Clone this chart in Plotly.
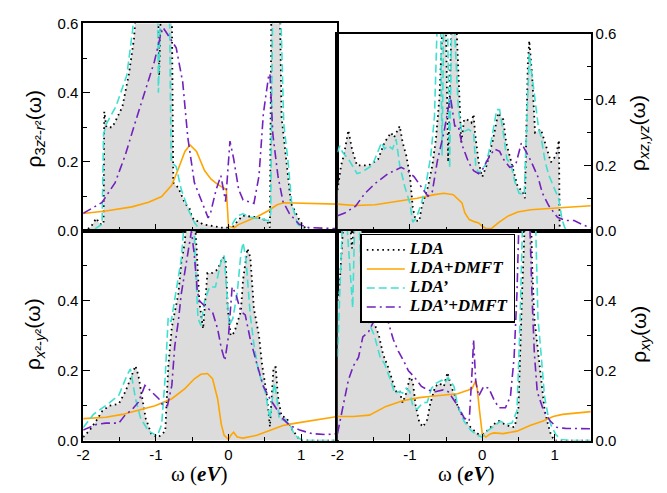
import plotly.graph_objects as go

# ---------------- data ----------------
x_tick_vals = [-2, -1, 0, 1]
x_tick_text = ["-2", "-1", "0", "1"]
x_minor_vals = [-1.5, -0.5, 0.5, 1.5]
y_tick_vals_top = [0.0, 0.2, 0.4, 0.6]
y_tick_text_top = ["0.0", "0.2", "0.4", "0.6"]
y_tick_vals_bot = [0.0, 0.2, 0.4]
y_tick_text_bot = ["0.0", "0.2", "0.4"]
y_minor_vals = [0.1, 0.3, 0.5]

series_names = ["LDA", "LDA+DMFT", "LDA’", "LDA’+DMFT"]

# --- top-left: 3z^2-r^2 ---
tl_lda_x = [-2.0, -1.9, -1.82, -1.77, -1.72, -1.71, -1.68, -1.6, -1.55, -1.46, -1.37, -1.30, -1.27, -1.2, -1.1, -1.0,
            -0.97, -0.955, -0.94, -0.9, -0.82, -0.78, -0.76, -0.69, -0.6, -0.535, -0.51, -0.47, -0.4, -0.36, -0.1,
            -0.02, 0.0, 0.05, 0.13, 0.2, 0.3, 0.4, 0.53, 0.57, 0.59, 0.62, 0.66, 0.70, 0.73, 0.8, 0.86, 0.98, 1.07,
            1.2, 1.5]
tl_lda_y = [0.0, 0.01, 0.037, 0.02, 0.02, 0.345, 0.30, 0.30, 0.32, 0.36, 0.455, 0.557, 0.65, 0.8, 0.9, 0.85,
            0.7, 0.45, 0.7, 0.9, 0.8, 0.65, 0.14, 0.125, 0.08, 0.065, 0.045, 0.03, 0.028, 0.02, 0.01,
            0.01, 0.0, 0.01, 0.03, 0.045, 0.042, 0.04, 0.03, 0.01, 0.65, 0.75, 0.7, 0.75, 0.33, 0.2, 0.08, 0.03, 0.005,
            0.0, 0.0]
tl_dmft_x = [-2.0, -1.69, -1.33, -1.1, -0.92, -0.78, -0.69, -0.60, -0.53, -0.44, -0.33, -0.24, -0.15, -0.06, -0.03,
             0.0, 0.08, 0.13, 0.27, 0.40, 0.54, 0.67, 0.76, 0.9, 1.5]
tl_dmft_y = [0.051, 0.058, 0.07, 0.083, 0.10, 0.133, 0.18, 0.23, 0.249, 0.23, 0.175, 0.15, 0.135, 0.125, 0.12,
             0.014, 0.009, 0.018, 0.03, 0.042, 0.058, 0.076, 0.082, 0.081, 0.078]
tl_ldap_x = [-2.0, -1.85, -1.74, -1.72, -1.68, -1.55, -1.40, -1.32, -1.28, -1.15, -1.0, -0.975, -0.965, -0.95, -0.9,
             -0.83, -0.81, -0.79, -0.72, -0.65, -0.55, -0.47, -0.4, -0.1, 0.0, 0.08, 0.13, 0.2, 0.3, 0.45, 0.55,
             0.58, 0.61, 0.66, 0.70, 0.73, 0.76, 0.82, 0.87, 0.95, 1.05, 1.2, 1.5]
tl_ldap_y = [0.0, 0.005, 0.02, 0.28, 0.31, 0.36, 0.45, 0.58, 0.7, 0.9, 0.85, 0.7, 0.40, 0.7, 0.95,
             0.8, 0.6, 0.2, 0.186, 0.12, 0.06, 0.025, 0.005, 0.003, 0.0, 0.03, 0.045, 0.05, 0.04, 0.035, 0.03,
             0.05, 0.7, 0.8, 0.75, 0.55, 0.31, 0.2, 0.08, 0.02, 0.003, 0.0, 0.0]
tl_ldapd_x = [-2.0, -1.74, -1.56, -1.42, -1.29, -1.15, -1.02, -0.93, -0.9, -0.80, -0.72, -0.63, -0.56, -0.47, -0.36,
              -0.28, -0.25, -0.17, -0.105, -0.04, 0.02, 0.07, 0.14, 0.2, 0.35, 0.42, 0.48, 0.55, 0.57, 0.61, 0.68,
              0.75, 0.84, 0.97, 1.1, 1.5]
tl_ldapd_y = [0.051, 0.083, 0.14, 0.22, 0.31, 0.40, 0.49, 0.57, 0.588, 0.556, 0.53, 0.43, 0.27, 0.14, 0.08,
              0.038, 0.05, 0.12, 0.16, 0.085, 0.26, 0.21, 0.12, 0.09, 0.08, 0.16, 0.34, 0.445, 0.455, 0.28, 0.16,
              0.085, 0.05, 0.02, 0.01, 0.007]

# --- top-right: xz,yz ---
tr_lda_x = [-2.0, -1.95, -1.91, -1.85, -1.80, -1.73, -1.57, -1.44, -1.35, -1.26, -1.22, -1.14, -1.10, -1.05, -1.0,
            -0.96, -0.92, -0.87, -0.84, -0.75, -0.69, -0.64, -0.59, -0.56, -0.53, -0.50, -0.47, -0.44, -0.41, -0.37,
            -0.33, -0.29, -0.25, -0.21, -0.15, -0.12, -0.10, -0.05, 0.0, 0.06, 0.15, 0.22, 0.29, 0.33, 0.42, 0.49,
            0.56, 0.59, 0.63, 0.65, 0.69, 0.73, 0.81, 0.87, 0.95, 1.02, 1.06, 1.07, 1.5]
tr_lda_y = [0.125, 0.2, 0.233, 0.307, 0.25, 0.2, 0.2, 0.218, 0.27, 0.30, 0.285, 0.32, 0.27, 0.23, 0.17,
            0.072, 0.032, 0.03, 0.07, 0.135, 0.20, 0.28, 0.41, 0.65, 0.75, 0.6, 0.21, 0.5, 0.75, 0.7,
            0.5, 0.27, 0.34, 0.34, 0.33, 0.356, 0.30, 0.21, 0.165, 0.20, 0.28, 0.36, 0.34, 0.27, 0.194, 0.135,
            0.12, 0.10, 0.51, 0.58, 0.47, 0.30, 0.31, 0.27, 0.21, 0.23, 0.277, 0.0, 0.0]
tr_dmft_x = [-2.0, -1.75, -1.48, -1.12, -0.9, -0.66, -0.53, -0.40, -0.33, -0.28, -0.24, -0.18, -0.1, -0.05, 0.0,
             0.05, 0.13, 0.22, 0.36, 0.49, 0.67, 0.85, 1.08, 1.5]
tr_dmft_y = [0.082, 0.078, 0.08, 0.091, 0.10, 0.111, 0.115, 0.111, 0.098, 0.086, 0.055, 0.035, 0.028, 0.025, 0.015,
             0.008, 0.008, 0.025, 0.046, 0.058, 0.065, 0.067, 0.071, 0.077]
tr_ldap_x = [-2.0, -1.97, -1.93, -1.85, -1.73, -1.66, -1.52, -1.39, -1.35, -1.30, -1.24, -1.19, -1.14, -1.07, -1.0,
             -0.96, -0.91, -0.84, -0.78, -0.71, -0.66, -0.62, -0.58, -0.555, -0.53, -0.49, -0.45, -0.42, -0.38,
             -0.33, -0.28, -0.19, -0.12, -0.09, -0.05, 0.0, 0.04, 0.08, 0.13, 0.20, 0.24, 0.29, 0.34, 0.40, 0.45,
             0.51, 0.58, 0.61, 0.65, 0.69, 0.74, 0.78, 0.81, 0.87, 0.92, 0.98, 1.06, 1.10, 1.14, 1.2, 1.5]
tr_ldap_y = [0.24, 0.26, 0.24, 0.22, 0.175, 0.18, 0.20, 0.27, 0.25, 0.26, 0.25, 0.28, 0.20, 0.135, 0.085,
             0.027, 0.04, 0.085, 0.14, 0.23, 0.35, 0.65, 0.75, 0.23, 0.7, 0.8, 0.19, 0.7, 0.6,
             0.37, 0.3, 0.31, 0.3, 0.2, 0.175, 0.19, 0.2, 0.23, 0.28, 0.37, 0.37, 0.30, 0.22, 0.20, 0.15,
             0.115, 0.11, 0.3, 0.54, 0.47, 0.39, 0.31, 0.29, 0.21, 0.17, 0.14, 0.096, 0.037, 0.01, 0.0, 0.0]
tr_ldapd_x = [-2.0, -1.9, -1.75, -1.62, -1.48, -1.30, -1.12, -1.04, -0.94, -0.85, -0.75, -0.69, -0.62, -0.53, -0.44,
              -0.38, -0.33, -0.28, -0.23, -0.19, -0.12, -0.05, 0.01, 0.08, 0.17, 0.24, 0.29, 0.38, 0.46, 0.54,
              0.61, 0.68, 0.77, 0.83, 0.92, 1.04, 1.15, 1.27, 1.40, 1.5]
tr_ldapd_y = [0.047, 0.055, 0.076, 0.115, 0.145, 0.175, 0.194, 0.185, 0.165, 0.137, 0.106, 0.12, 0.214, 0.30, 0.41,
              0.32, 0.32, 0.263, 0.23, 0.21, 0.184, 0.175, 0.19, 0.22, 0.25, 0.243, 0.22, 0.194, 0.2, 0.268,
              0.24, 0.21, 0.165, 0.116, 0.077, 0.042, 0.032, 0.032, 0.018, 0.01]

# --- bottom-left: x^2-y^2 ---
bl_lda_x = [-2.0, -1.91, -1.82, -1.74, -1.64, -1.51, -1.42, -1.35, -1.28, -1.24, -1.19, -1.14, -1.06, -0.97, -0.87,
            -0.83, -0.78, -0.69, -0.65, -0.6, -0.56, -0.5, -0.44, -0.42, -0.40, -0.35, -0.33, -0.29, -0.22, -0.15,
            -0.08, -0.04, -0.01, 0.03, 0.08, 0.17, 0.2, 0.26, 0.3, 0.35, 0.42, 0.46, 0.53, 0.57, 0.62, 0.65, 0.68,
            0.73, 0.8, 0.87, 0.98, 1.1, 1.5]
bl_lda_y = [0.01, 0.03, 0.057, 0.084, 0.1, 0.105, 0.14, 0.18, 0.214, 0.186, 0.12, 0.064, 0.018, 0.009, 0.027,
            0.21, 0.325, 0.42, 0.51, 0.57, 0.7, 0.75, 0.553, 0.47, 0.395, 0.32, 0.37, 0.48, 0.48, 0.49,
            0.525, 0.52, 0.377, 0.30, 0.31, 0.37, 0.46, 0.55, 0.525, 0.377, 0.30, 0.22, 0.127, 0.04, 0.21, 0.21,
            0.127, 0.07, 0.065, 0.034, 0.002, 0.0, 0.0]
bl_dmft_x = [-2.0, -1.69, -1.46, -1.24, -1.01, -0.78, -0.6, -0.47, -0.38, -0.29, -0.22, -0.15, -0.10, -0.06, 0.0,
             0.03, 0.07, 0.12, 0.2, 0.39, 0.57, 0.75, 0.93, 1.21, 1.5]
bl_dmft_y = [0.063, 0.067, 0.075, 0.088, 0.1, 0.12, 0.149, 0.177, 0.19, 0.192, 0.177, 0.12, 0.047, 0.015, 0.003,
             0.015, 0.024, 0.01, 0.007, 0.015, 0.03, 0.043, 0.05, 0.06, 0.069]
bl_ldap_x = [-2.0, -1.86, -1.69, -1.51, -1.39, -1.35, -1.28, -1.21, -1.1, -0.98, -0.92, -0.87, -0.83, -0.79, -0.72,
             -0.65, -0.6, -0.53, -0.48, -0.46, -0.42, -0.38, -0.33, -0.26, -0.18, -0.1, -0.06, -0.03, 0.01, 0.06,
             0.12, 0.17, 0.20, 0.24, 0.30, 0.35, 0.41, 0.51, 0.57, 0.63, 0.66, 0.70, 0.78, 0.85, 0.91, 0.98, 1.05,
             1.5]
bl_ldap_y = [0.037, 0.075, 0.1, 0.13, 0.19, 0.205, 0.12, 0.064, 0.027, 0.013, 0.046, 0.185, 0.353, 0.34, 0.43,
             0.52, 0.65, 0.75, 0.65, 0.52, 0.35, 0.33, 0.40, 0.44, 0.44, 0.516, 0.53, 0.44, 0.33, 0.35,
             0.423, 0.534, 0.567, 0.52, 0.358, 0.275, 0.2, 0.135, 0.062, 0.164, 0.13, 0.06, 0.06, 0.044, 0.016,
             0.005, 0.0, 0.0]
bl_ldapd_x = [-2.0, -1.82, -1.69, -1.51, -1.42, -1.33, -1.24, -1.15, -1.06, -0.96, -0.9, -0.84, -0.78, -0.74, -0.69,
              -0.65, -0.58, -0.53, -0.51, -0.47, -0.43, -0.40, -0.33, -0.22, -0.15, -0.1, -0.05, 0.0, 0.05, 0.10,
              0.17, 0.23, 0.30, 0.39, 0.48, 0.57, 0.66, 0.75, 0.84, 0.98, 1.15, 1.34, 1.5]
bl_ldapd_y = [0.03, 0.046, 0.05, 0.05, 0.074, 0.088, 0.11, 0.158, 0.14, 0.12, 0.1, 0.1, 0.158, 0.27, 0.343,
              0.42, 0.51, 0.566, 0.6, 0.53, 0.43, 0.40, 0.386, 0.368, 0.32, 0.266, 0.229, 0.3, 0.44, 0.42,
              0.37, 0.36, 0.29, 0.22, 0.155, 0.12, 0.09, 0.062, 0.044, 0.03, 0.02, 0.017, 0.02]

# --- bottom-right: xy ---
br_lda_x = [-2.0, -1.97, -1.92, -1.89, -1.85, -1.80, -1.77, -1.73, -1.68, -1.64, -1.57, -1.5, -1.43, -1.37, -1.3,
            -1.23, -1.18, -1.14, -1.10, -1.05, -1.0, -0.96, -0.92, -0.87, -0.82, -0.76, -0.72, -0.65, -0.59, -0.53,
            -0.48, -0.43, -0.38, -0.34, -0.25, -0.16, -0.07, 0.0, 0.07, 0.16, 0.23, 0.30, 0.41, 0.45, 0.50, 0.55,
            0.57, 0.62, 0.66, 0.69, 0.72, 0.77, 0.81, 0.86, 0.9, 0.95, 1.0, 1.5]
br_lda_y = [0.40, 0.45, 0.62, 0.75, 0.7, 0.55, 0.62, 0.8, 0.65, 0.47, 0.377, 0.34, 0.303, 0.247, 0.21,
            0.164, 0.136, 0.14, 0.108, 0.136, 0.182, 0.17, 0.10, 0.053, 0.039, 0.06, 0.104, 0.155, 0.164, 0.155,
            0.195, 0.155, 0.13, 0.098, 0.06, 0.038, 0.02, 0.018, 0.029, 0.047, 0.056, 0.048, 0.038, 0.04, 0.094, 0.42,
            0.7, 0.8, 0.75, 0.5, 0.35, 0.25, 0.173, 0.09, 0.053, 0.016, 0.0, 0.0]
br_dmft_x = [-2.0, -1.78, -1.56, -1.33, -1.1, -0.87, -0.7, -0.48, -0.34, -0.2, -0.14, -0.09, -0.07, -0.04, -0.01,
             0.0, 0.05, 0.11, 0.16, 0.29, 0.48, 0.66, 0.84, 0.98, 1.11, 1.5]
br_dmft_y = [0.069, 0.069, 0.073, 0.098, 0.114, 0.123, 0.127, 0.13, 0.134, 0.144, 0.149, 0.172, 0.15, 0.09, 0.03,
             0.019, 0.01, 0.019, 0.022, 0.02, 0.027, 0.043, 0.056, 0.069, 0.075, 0.083]
br_ldap_x = [-2.0, -1.96, -1.92, -1.88, -1.83, -1.79, -1.76, -1.72, -1.68, -1.63, -1.57, -1.49, -1.41, -1.35, -1.28,
             -1.21, -1.15, -1.10, -1.05, -1.0, -0.96, -0.9, -0.82, -0.76, -0.7, -0.64, -0.56, -0.52, -0.47, -0.39,
             -0.34, -0.25, -0.16, -0.07, 0.0, 0.07, 0.16, 0.25, 0.34, 0.41, 0.48, 0.52, 0.56, 0.62, 0.7, 0.74,
             0.75, 0.77, 0.82, 0.86, 0.91, 0.95, 1.02, 1.1, 1.2, 1.5]
br_ldap_y = [0.24, 0.5, 0.7, 0.65, 0.5, 0.38, 0.65, 0.75, 0.5, 0.38, 0.34, 0.30, 0.238, 0.22, 0.18,
             0.136, 0.14, 0.136, 0.15, 0.14, 0.099, 0.09, 0.108, 0.11, 0.15, 0.164, 0.173, 0.165, 0.18, 0.155,
             0.10, 0.055, 0.03, 0.015, 0.01, 0.028, 0.04, 0.055, 0.047, 0.05, 0.085, 0.325, 0.65, 0.8, 0.75, 0.6,
             0.516, 0.35, 0.23, 0.127, 0.071, 0.044, 0.016, 0.003, 0.0, 0.0]
br_ldapd_x = [-2.0, -1.92, -1.85, -1.78, -1.71, -1.65, -1.57, -1.48, -1.41, -1.35, -1.30, -1.23, -1.16, -1.09, -1.02,
              -0.93, -0.84, -0.75, -0.65, -0.54, -0.47, -0.42, -0.34, -0.25, -0.18, -0.14, -0.12, -0.09, -0.05,
              0.02, 0.09, 0.16, 0.23, 0.32, 0.39, 0.44, 0.48, 0.51, 0.56, 0.62, 0.66, 0.69, 0.72, 0.76, 0.85,
              0.94, 1.03, 1.15, 1.5]
br_ldapd_y = [0.02, 0.103, 0.173, 0.214, 0.238, 0.297, 0.312, 0.35, 0.358, 0.34, 0.34, 0.29, 0.256, 0.23, 0.2,
              0.18, 0.155, 0.145, 0.14, 0.145, 0.14, 0.125, 0.10, 0.065, 0.056, 0.2, 0.289, 0.17, 0.127,
              0.155, 0.15, 0.118, 0.094, 0.094, 0.127, 0.238, 0.423, 0.65, 0.8, 0.75, 0.6, 0.4, 0.25, 0.14, 0.084,
              0.056, 0.038, 0.035, 0.034]

panels = [
    ("x", "y", tl_lda_x, tl_lda_y, tl_dmft_x, tl_dmft_y, tl_ldap_x, tl_ldap_y, tl_ldapd_x, tl_ldapd_y, False),
    ("x2", "y2", tr_lda_x, tr_lda_y, tr_dmft_x, tr_dmft_y, tr_ldap_x, tr_ldap_y, tr_ldapd_x, tr_ldapd_y, False),
    ("x3", "y3", bl_lda_x, bl_lda_y, bl_dmft_x, bl_dmft_y, bl_ldap_x, bl_ldap_y, bl_ldapd_x, bl_ldapd_y, False),
    ("x4", "y4", br_lda_x, br_lda_y, br_dmft_x, br_dmft_y, br_ldap_x, br_ldap_y, br_ldapd_x, br_ldapd_y, True),
]

# ---------------- styles ----------------
C_FILL = "rgb(220,220,220)"
C_LDA = "black"
C_DMFT = "rgb(255,165,0)"
C_LDAP = "rgb(64,224,208)"
C_LDAPD = "rgb(114,33,188)"


def legname(s):
    return '<span style="font-size:17px"><b><i>' + s + '</i></b></span>'


fig = go.Figure()
for xa, ya, lx, ly, dx, dy, px, py, qx, qy, leg in panels:
    fig.add_trace(go.Scatter(x=lx, y=ly, xaxis=xa, yaxis=ya, mode="lines", fill="tozeroy",
                             fillcolor=C_FILL, line=dict(width=0, color=C_FILL),
                             showlegend=False, hoverinfo="skip"))
    fig.add_trace(go.Scatter(x=lx, y=ly, xaxis=xa, yaxis=ya, mode="lines", name=legname(series_names[0]),
                             line=dict(color=C_LDA, width=1.8, dash="1.6px,3.6px"), showlegend=leg))
    fig.add_trace(go.Scatter(x=dx, y=dy, xaxis=xa, yaxis=ya, mode="lines", name=legname(series_names[1]),
                             line=dict(color=C_DMFT, width=1.6), showlegend=leg))
    fig.add_trace(go.Scatter(x=px, y=py, xaxis=xa, yaxis=ya, mode="lines", name=legname(series_names[2]),
                             line=dict(color=C_LDAP, width=1.6, dash="8px,4px"), showlegend=leg))
    fig.add_trace(go.Scatter(x=qx, y=qy, xaxis=xa, yaxis=ya, mode="lines", name=legname(series_names[3]),
                             line=dict(color=C_LDAPD, width=1.6, dash="9px,4px,2px,4px"), showlegend=leg))

W, H = 667, 493
L, MID, R = 77, 334, 590
TOP_L, TOP_R, MIDY, BOT = 15, 26, 230, 447

tickfont = dict(family="Liberation Sans, Arial, sans-serif", size=15, color="black")


def xax(domain, labels):
    return dict(domain=domain, range=[-2, 1.5], showgrid=False, zeroline=False, showline=True,
                linecolor="black", linewidth=1.5, mirror=True, ticks="inside", ticklen=7, tickwidth=1.2,
                tickcolor="black", tickmode="array", tickvals=x_tick_vals, ticktext=x_tick_text,
                showticklabels=labels, tickfont=tickfont, ticklabelstandoff=0,
                minor=dict(ticks="inside", ticklen=4, tickwidth=1.2, tickcolor="black", tickmode="array",
                           tickvals=x_minor_vals))


def yax(domain, anchor, side, vals, texts):
    return dict(domain=domain, anchor=anchor, side=side, range=[0, 0.6], showgrid=False, zeroline=False,
                showline=True, linecolor="black", linewidth=1.5, mirror=True, ticks="inside", ticklen=7,
                tickwidth=1.2, tickcolor="black", tickmode="array", tickvals=vals, ticktext=texts,
                tickfont=tickfont,
                minor=dict(ticks="inside", ticklen=4, tickwidth=1.2, tickcolor="black", tickmode="array",
                           tickvals=y_minor_vals))


dxl = [L / W, MID / W]
dxr = [MID / W, R / W]
dytl = [1 - MIDY / H, 1 - TOP_L / H]
dytr = [1 - MIDY / H, 1 - TOP_R / H]
dyb = [1 - BOT / H, 1 - MIDY / H]

fig.update_layout(
    width=W, height=H, margin=dict(l=0, r=0, t=0, b=0),
    paper_bgcolor="white", plot_bgcolor="white",
    xaxis=dict(xax(dxl, False), anchor="y"),
    xaxis2=dict(xax(dxr, False), anchor="y2"),
    xaxis3=dict(xax(dxl, True), anchor="y3"),
    xaxis4=dict(xax(dxr, True), anchor="y4"),
    yaxis=yax(dytl, "x", "left", y_tick_vals_top, y_tick_text_top),
    yaxis2=yax(dytr, "x2", "right", y_tick_vals_top, y_tick_text_top),
    yaxis3=yax(dyb, "x3", "left", y_tick_vals_bot, y_tick_text_bot),
    yaxis4=yax(dyb, "x4", "right", y_tick_vals_bot, y_tick_text_bot),
    legend=dict(x=357 / W, y=1 - 233 / H, xanchor="left", yanchor="top", bgcolor="white",
                bordercolor="black", borderwidth=1.5,
                font=dict(family="Liberation Serif, Times New Roman, serif", size=11, color="black"),
                itemwidth=38, tracegroupgap=0),
    showlegend=True,
)

yfont = dict(family="Liberation Sans, Arial, sans-serif", size=21, color="black")
xfont = dict(family="Liberation Serif, Times New Roman, serif", size=21, color="black")
annots = [
    dict(x=28 / W, y=1 - 124 / H, text="ρ<sub>3<i>z</i>²-<i>r</i>²</sub>(ω)", textangle=-90, font=yfont),
    dict(x=28 / W, y=1 - 337 / H, text="ρ<sub><i>x</i>²-<i>y</i>²</sub>(ω)", textangle=-90, font=yfont),
    dict(x=638 / W, y=1 - 128 / H, text="ρ<sub><i>xz,yz</i></sub>(ω)", textangle=-90, font=yfont),
    dict(x=640 / W, y=1 - 337 / H, text="ρ<sub><i>xy</i></sub>(ω)", textangle=-90, font=yfont),
    dict(x=194 / W, y=1 - 482 / H, text="ω (<b><i>eV</i></b>)", font=xfont),
    dict(x=464 / W, y=1 - 482 / H, text="ω (<b><i>eV</i></b>)", font=xfont),
]
for a in annots:
    a.update(xref="paper", yref="paper", showarrow=False, xanchor="center", yanchor="middle")
fig.update_layout(annotations=annots)

fig.write_html("out.html")
